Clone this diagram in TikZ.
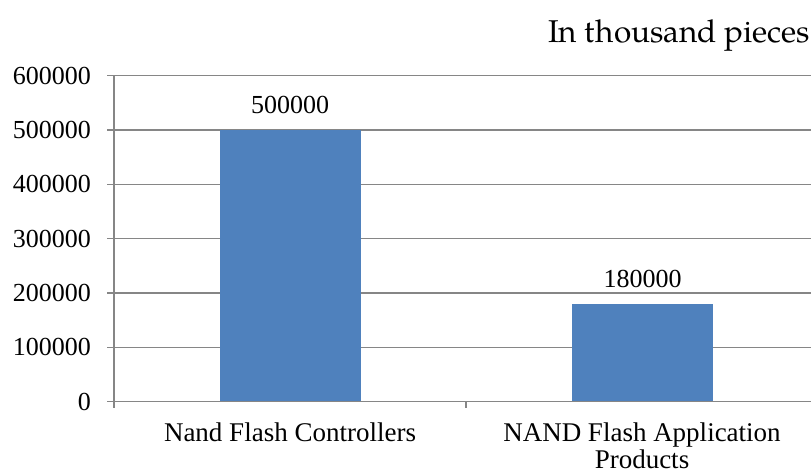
\documentclass[tikz,border=0pt]{standalone}
\usepackage{fontspec}
\setmainfont{Liberation Serif}
\newfontfamily\palfont{TeX Gyre Pagella}
\definecolor{barblue}{HTML}{4F81BD}
\definecolor{gridgray}{HTML}{868686}
\tikzset{
  gridline/.style={draw=gridgray,line width=1.5pt},
  barfill/.style={fill=barblue},
  numlabel/.style={inner sep=0pt,font=\fontsize{26}{30}\selectfont},
  catlabel/.style={inner sep=0pt,align=center,font=\fontsize{27}{27}\selectfont},
}
\begin{document}
\begin{tikzpicture}[x=1pt,y=-1pt]
\useasboundingbox (0,0) rectangle (811,474);
% gridlines and y ticks
\foreach \v/\t in {0/0,1/100000,2/200000,3/300000,4/400000,5/500000,6/600000}{
  \pgfmathsetmacro{\yy}{401.7-\v*54.33}
  \draw[gridline] (114,\yy) -- (811,\yy);
  \draw[gridline] (107,\yy) -- (114,\yy);
  \node[numlabel,anchor=east] (y\v) at (91,\yy) {\t};
}
% bars
\fill[barfill] (220,401.7) rectangle (361,130.05);
\fill[barfill] (572,401.7) rectangle (713,303.9);
% axes
\draw[gridline] (114,75.7) -- (114,401.7);
\draw[gridline] (114,401.7) -- (811,401.7);
\draw[gridline] (114,401.7) -- (114,408);
\draw[gridline] (466,401.7) -- (466,408);
% value labels
\node[numlabel] (v1) at (290,105) {500000};
\node[numlabel] (v2) at (642.5,279) {180000};
% category labels
\node[catlabel,anchor=north] (c1) at (290,422.5) {Nand Flash Controllers};
\node[catlabel,anchor=north] (c2) at (642,422.5) {NAND Flash Application\\Products};
% unit
\node[inner sep=0pt,anchor=base east,font=\palfont\fontsize{31.5}{34}\selectfont] (unit) at (810.5,42) {In thousand pieces};
\end{tikzpicture}
\end{document}
